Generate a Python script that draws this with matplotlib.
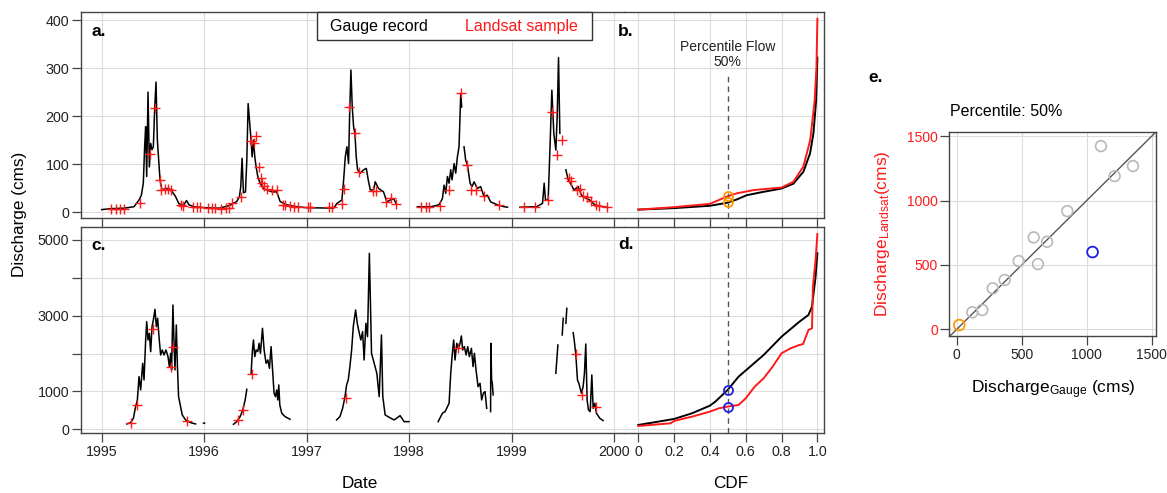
"""Gauge record vs Landsat sample: hydrographs, CDFs and percentile scatter."""

import matplotlib

matplotlib.use("Agg")
import matplotlib.pyplot as plt
import numpy as np
from matplotlib.patches import Rectangle

plt.rcParams["font.family"] = ["Liberation Sans", "DejaVu Sans"]
plt.rcParams["mathtext.fontset"] = "custom"
plt.rcParams["mathtext.rm"] = "Liberation Sans"
plt.rcParams["mathtext.it"] = "Liberation Sans:italic"

nan = np.nan

# ---- panel a: small river, gauge record (decimal year, cms) ----
GAUGE_A_T = [
    1995.000, 1995.088, 1995.218, 1995.315, 1995.364, 1995.387, 1995.406, 1995.419,
    1995.429, 1995.439, 1995.452, 1995.465, 1995.478, 1995.491, 1995.504, 1995.517,
    1995.530, 1995.543, 1995.556, 1995.569, 1995.588, 1995.624, 1995.656, 1995.689,
    1995.721, 1995.754, 1995.802, 1995.828, 1995.851, 1995.900, 1996.004, 1996.150,
    1996.253, 1996.318, 1996.344, 1996.357, 1996.370, 1996.383, 1996.403, 1996.416,
    1996.429, 1996.442, 1996.455, 1996.468, 1996.481, 1996.494, 1996.507, 1996.523,
    1996.546, 1996.578, 1996.611, 1996.660, 1996.708, 1996.741, 1996.806, 1996.903,
    1997.000, 1997.263, 1997.296, 1997.344, 1997.361, 1997.377, 1997.393, 1997.409,
    1997.419, 1997.432, 1997.445, 1997.458, 1997.471, 1997.484, 1997.497, 1997.523,
    1997.556, 1997.582, 1997.601, 1997.621, 1997.653, 1997.669, 1997.702, 1997.750,
    1997.783, 1997.815, 1997.848, 1997.875, 1997.950, 1998.081, 1998.211, 1998.292,
    1998.325, 1998.341, 1998.357, 1998.374, 1998.390, 1998.406, 1998.419, 1998.439,
    1998.455, 1998.471, 1998.487, 1998.504, 1998.513, 1998.525, 1998.536, 1998.552,
    1998.569, 1998.595, 1998.614, 1998.634, 1998.666, 1998.698, 1998.731, 1998.763,
    1998.796, 1998.861, 1998.926, 1998.960, 1999.020, 1999.081, 1999.244, 1999.302,
    1999.318, 1999.331, 1999.357, 1999.374, 1999.393, 1999.412, 1999.432, 1999.445,
    1999.458, 1999.471, 1999.500, 1999.530, 1999.552, 1999.575, 1999.608, 1999.650,
    1999.682, 1999.731, 1999.763, 1999.812, 1999.861, 1999.926,
]
GAUGE_A_Q = [
    5, 7, 8, 11, 25, 35, 60, 136,
    178, 74, 250, 94, 143, 130, 136, 216,
    271, 150, 108, 67, 46, 49, 49, 42,
    32, 17, 15, 24, 15, 11, 9, 8,
    14, 22, 32, 53, 112, 40, 42, 108,
    226, 192, 157, 115, 150, 115, 94, 74,
    60, 49, 46, 42, 42, 22, 15, 11,
    9, 8, 18, 25, 67, 115, 136, 101,
    199, 296, 219, 178, 164, 115, 88, 81,
    88, 91, 67, 46, 46, 63, 49, 42,
    21, 25, 28, 17, nan, 11, 11, 15,
    28, 56, 39, 74, 60, 88, 67, 101,
    81, 115, 136, 247, 219, nan, 136, 108,
    98, 60, 53, 63, 49, 53, 32, 35,
    21, 15, 11, 10, nan, 10, 11, 18,
    60, 25, 25, 129, 254, 164, 129, 199,
    322, 164, nan, 88, 67, 60, 46, 53,
    35, 28, 25, 15, 12, 10,
]

LANDSAT_A_T = [
    1995.094, 1995.136, 1995.175, 1995.218, 1995.370, 1995.471, 1995.523, 1995.565,
    1995.582, 1995.614, 1995.647, 1995.673, 1995.770, 1995.796, 1995.893, 1995.932,
    1995.955, 1996.036, 1996.079, 1996.101, 1996.160, 1996.209, 1996.238, 1996.274,
    1996.355, 1996.455, 1996.485, 1996.507, 1996.533, 1996.550, 1996.566, 1996.582,
    1996.615, 1996.663, 1996.712, 1996.771, 1996.793, 1996.842, 1996.875, 1996.914,
    1997.011, 1997.037, 1997.216, 1997.248, 1997.346, 1997.368, 1997.417, 1997.469,
    1997.508, 1997.643, 1997.675, 1997.773, 1997.821, 1997.870, 1998.114, 1998.162,
    1998.195, 1998.302, 1998.390, 1998.504, 1998.569, 1998.608, 1998.650, 1998.731,
    1998.877, 1999.121, 1999.225, 1999.358, 1999.397, 1999.446, 1999.488, 1999.559,
    1999.575, 1999.634, 1999.666, 1999.699, 1999.738, 1999.771, 1999.819, 1999.852,
    1999.927,
]
LANDSAT_A_Q = [
    6, 6, 6, 6, 19, 120, 217, 67,
    46, 47, 47, 46, 14, 12, 11, 10,
    10, 8, 8, 8, 6, 8, 9, 18,
    32, 147, 144, 159, 93, 70, 60, 54,
    47, 46, 46, 15, 14, 12, 11, 10,
    10, 10, 10, 10, 17, 49, 219, 165,
    84, 44, 44, 21, 30, 17, 10, 10,
    10, 12, 46, 249, 98, 46, 46, 34,
    15, 10, 10, 24, 208, 119, 150, 70,
    65, 46, 49, 34, 31, 22, 15, 12,
    10,
]

# ---- panel c: large river, gauge record ----
GAUGE_C_T = [
    1995.244, 1995.283, 1995.309, 1995.331, 1995.348, 1995.364, 1995.380, 1995.400,
    1995.413, 1995.429, 1995.439, 1995.452, 1995.465, 1995.478, 1995.491, 1995.504,
    1995.520, 1995.533, 1995.546, 1995.559, 1995.575, 1995.591, 1995.608, 1995.627,
    1995.647, 1995.660, 1995.673, 1995.682, 1995.695, 1995.705, 1995.715, 1995.728,
    1995.738, 1995.750, 1995.763, 1995.786, 1995.819, 1995.867, 1995.916, 1995.950,
    1995.994, 1996.004, 1996.100,
    1996.286, 1996.318, 1996.351, 1996.377, 1996.400, 1996.416, 1996.440,
    1996.458, 1996.471, 1996.481, 1996.494, 1996.507, 1996.523, 1996.536, 1996.549,
    1996.569, 1996.585, 1996.604, 1996.621, 1996.637, 1996.653, 1996.669, 1996.682,
    1996.695, 1996.708, 1996.718, 1996.728, 1996.738, 1996.757, 1996.789, 1996.838,
    1997.000,
    1997.292, 1997.325, 1997.351, 1997.374, 1997.390, 1997.406, 1997.422, 1997.439,
    1997.455, 1997.478, 1997.494, 1997.507, 1997.529, 1997.546, 1997.561, 1997.578,
    1997.594, 1997.612, 1997.633, 1997.659, 1997.685, 1997.708, 1997.730, 1997.743,
    1997.766, 1997.805, 1997.854, 1997.912, 1997.951, 1997.998, 1998.100,
    1998.283, 1998.325, 1998.351, 1998.374, 1998.390, 1998.406, 1998.422, 1998.435,
    1998.448, 1998.465, 1998.481, 1998.497, 1998.510, 1998.523, 1998.539, 1998.556,
    1998.572, 1998.588, 1998.608, 1998.624, 1998.637, 1998.653, 1998.673, 1998.692,
    1998.708, 1998.724, 1998.741, 1998.757, 1998.780,
    1998.795, 1998.798, 1998.805, 1998.812, 1998.820, 1998.900,
    1999.432, 1999.452, 1999.470, 1999.494, 1999.504, 1999.520, 1999.530, 1999.539,
    1999.570, 1999.601, 1999.611, 1999.627, 1999.643, 1999.656, 1999.669, 1999.682,
    1999.698, 1999.711, 1999.724, 1999.737, 1999.750, 1999.767, 1999.783, 1999.796,
    1999.812, 1999.828, 1999.861, 1999.893,
]
GAUGE_C_Q = [
    141, 176, 290, 599, 775, 1391, 1039, 1743,
    1303, 2359, 2843, 2359, 2535, 2051, 2711, 2887,
    3169, 2711, 2931, 2447, 1963, 2095, 1963, 2095,
    1919, 1655, 2007, 1567, 3283, 2359, 1567, 2755,
    1743, 863, 687, 379, 246, 176, 141, nan,
    165, 160, nan,
    132, 202, 335, 511, 775, 1056, nan,
    1479, 2095, 2359, 1919, 2095, 2051, 2271, 2007,
    2667, 2095, 1743, 1831, 1611, 2183, 1479, 951,
    863, 1039, 775, 1171, 643, 423, 335, 264,
    nan,
    246, 335, 555, 863, 1171, 1303, 1655, 2095,
    2711, 3151, 2799, 2623, 2359, 2580, 1831, 2799,
    2447, 4648, 2007, 1743, 1479, 863, 2491, 863,
    379, 317, 246, 361, 202, 202, nan,
    202, 423, 467, 599, 687, 1479, 2007, 2359,
    1831, 2271, 2139, 2271, 2465, 2095, 2183, 1963,
    2183, 1919, 2139, 1655, 2007, 1567, 1127, 1215,
    775, 951, 995, 555, nan,
    467, 2271, 1300, 1215, 907, nan,
    1479, 2227, nan, 2491, 2931, nan, 2799, 3195,
    nan, 2553, 2359, 1963, 1303, 1215, 1083, 951,
    1127, 1479, 2253, 775, 511, 467, 1435, 555,
    687, 423, 290, 229,
]

LANDSAT_C_T = [
    1995.283, 1995.348, 1995.497, 1995.673, 1995.699, 1995.828, 1996.332, 1996.378,
    1996.465, 1997.385, 1998.478, 1999.631, 1999.689, 1999.819,
]
LANDSAT_C_Q = [176, 643, 2641, 1655, 2183, 211, 238, 502, 1461, 836, 2139, 1981, 907, 599]

# ---- panels b and d: CDFs ----
CDF_P_GAUGE_A = [0, 0.196, 0.40, 0.493, 0.549, 0.605, 0.698, 0.80, 0.866, 0.922, 0.959, 0.978, 0.993, 1.0]
CDF_Q_GAUGE_A = [5, 8, 13, 19, 26, 35, 42, 49, 59, 84, 122, 164, 233, 322]
CDF_P_LANDSAT_A = [0, 0.196, 0.40, 0.45, 0.493, 0.55, 0.65, 0.80, 0.866, 0.922, 0.96, 0.985, 0.995, 1.0]
CDF_Q_LANDSAT_A = [5, 10, 17, 25, 32, 39, 46, 51, 63, 95, 150, 233, 303, 403]

CDF_P_GAUGE_C = [0, 0.2, 0.3, 0.4, 0.43, 0.5, 0.56, 0.7, 0.8, 0.9, 0.95, 0.97, 0.99, 1.0]
CDF_Q_GAUGE_C = [114, 273, 423, 625, 730, 1045, 1391, 1963, 2447, 2843, 3019, 3239, 4032, 4650]
CDF_P_LANDSAT_C = [0, 0.18, 0.2, 0.3, 0.4, 0.45, 0.5, 0.56, 0.6, 0.65, 0.7, 0.75, 0.8,
                   0.85, 0.9, 0.92, 0.95, 0.97, 0.975, 0.99, 1.0]
CDF_Q_LANDSAT_C = [88, 158, 220, 334, 467, 555, 600, 643, 819, 1127, 1347, 1655, 2007,
                   2139, 2227, 2250, 2623, 2667, 3768, 4472, 5158]

PERCENTILE = 0.5
P50_A = (20, 33)      # (gauge, landsat)
P50_C = (1045, 600)

# ---- panel e: percentile flows for many rivers ----
E_GAUGE = [120, 197, 277, 369, 477, 592, 625, 695, 851, 1110, 1215, 1356]
E_LANDSAT = [132, 150, 318, 383, 530, 714, 507, 680, 918, 1423, 1190, 1268]

YEARS = [1995, 1996, 1997, 1998, 1999, 2000]
CDF_TICKS = [0, 0.2, 0.4, 0.6, 0.8, 1.0]
CDF_LABELS = ["0", "0.2", "0.4", "0.6", "0.8", "1.0"]

W, H = 1167, 493
FRAME = "#444444"
GRID = "#dcdcdc"
RED = "#ff1a1a"
ORANGE = "#ff9900"
BLUE = "#1f1fe0"


def box(left, top, right, bottom):
    return [left / W, 1 - bottom / H, (right - left) / W, (bottom - top) / H]


def style(ax, labelsize=10.3):
    for spine in ax.spines.values():
        spine.set_color(FRAME)
        spine.set_linewidth(1.0)
    ax.tick_params(direction="out", length=6.3, width=0.9, color=FRAME,
                   labelsize=labelsize, pad=2, labelcolor="#222222")
    ax.grid(True, color=GRID, linewidth=0.8)
    ax.set_axisbelow(True)


def ftext(fig, x, y, s, **kw):
    fig.text(x / W, 1 - y / H, s, **kw)


fig = plt.figure(figsize=(W / 100, H / 100), dpi=100)

ax_a = fig.add_axes(box(80.7, 12, 624, 218))
ax_b = fig.add_axes(box(624, 12, 824, 218))
ax_c = fig.add_axes(box(80.7, 226.7, 624, 433))
ax_d = fig.add_axes(box(624, 226.7, 824, 433))
ax_e = fig.add_axes(box(949.3, 131.7, 1155.7, 336))

for ax in (ax_a, ax_b, ax_c, ax_d):
    style(ax)
style(ax_e, labelsize=10)

# time series
ax_a.plot(GAUGE_A_T, GAUGE_A_Q, color="black", lw=1.1)
ax_a.plot(LANDSAT_A_T, LANDSAT_A_Q, ls="none", marker="+", ms=7, mew=1.0, color=RED)
ax_c.plot(GAUGE_C_T, GAUGE_C_Q, color="black", lw=1.1)
ax_c.plot(LANDSAT_C_T, LANDSAT_C_Q, ls="none", marker="+", ms=7, mew=1.0, color=RED)

for ax, ylim, yticks in (
    (ax_a, (-12.5, 417), [0, 100, 200, 300, 400]),
    (ax_c, (-98, 5351), [0, 1000, 2000, 3000, 4000, 5000]),
):
    ax.set_xlim(1994.795, 2000.097)
    ax.set_ylim(*ylim)
    ax.set_xticks(YEARS)
    ax.set_yticks(yticks)
    ax.spines["right"].set_visible(False)
ax_a.tick_params(labelbottom=False)
ax_c.set_xticklabels([str(y) for y in YEARS])
ax_c.set_yticklabels(["0", "1000", "", "3000", "", "5000"])

# CDFs
ax_b.plot(CDF_P_GAUGE_A, CDF_Q_GAUGE_A, color="black", lw=1.4)
ax_b.plot(CDF_P_LANDSAT_A, CDF_Q_LANDSAT_A, color=RED, lw=1.4)
ax_d.plot(CDF_P_GAUGE_C, CDF_Q_GAUGE_C, color="black", lw=1.4)
ax_d.plot(CDF_P_LANDSAT_C, CDF_Q_LANDSAT_C, color=RED, lw=1.4)

ax_b.vlines(PERCENTILE, -12.5, 285, colors="#555555", lw=1.0, linestyles=(0, (4, 3)))
ax_d.vlines(PERCENTILE, -98, 5351, colors="#555555", lw=1.0, linestyles=(0, (4, 3)))
ax_b.plot([PERCENTILE] * 2, P50_A, ls="none", marker="o", ms=6.5, mfc="none",
          mec=ORANGE, mew=1.3)
ax_d.plot([PERCENTILE] * 2, P50_C, ls="none", marker="o", ms=6.5, mfc="none",
          mec=BLUE, mew=1.3)
ax_b.text(PERCENTILE, 329, "Percentile Flow\n50%", ha="center", va="center",
          fontsize=10, color="#222222", linespacing=1.1)

for ax, ylim, yticks in (
    (ax_b, (-12.5, 417), [0, 100, 200, 300, 400]),
    (ax_d, (-98, 5351), [0, 1000, 2000, 3000, 4000, 5000]),
):
    ax.set_xlim(-0.08, 1.037)
    ax.set_ylim(*ylim)
    ax.set_xticks(CDF_TICKS)
    ax.set_yticks(yticks)
    ax.spines["left"].set_visible(False)
    ax.tick_params(axis="y", left=False, labelleft=False)
ax_b.tick_params(labelbottom=False)
ax_d.set_xticklabels(CDF_LABELS)

# legend box
ax_a.add_patch(Rectangle((0.4344, 0.864), 0.5061, 0.136, transform=ax_a.transAxes,
                         facecolor="white", edgecolor="#333333", lw=1.0, zorder=5,
                         clip_on=False))
ax_a.text(0.459, 0.932, "Gauge record", transform=ax_a.transAxes, ha="left",
          va="center", fontsize=11.5, color="black", zorder=6)
ax_a.text(0.7074, 0.932, "Landsat sample", transform=ax_a.transAxes, ha="left",
          va="center", fontsize=11.5, color=RED, zorder=6)

# panel e
ax_e.scatter(E_GAUGE, E_LANDSAT, s=60, facecolors="none", edgecolors="#b8b8b8",
             linewidths=1.2, zorder=3)
ax_e.scatter([P50_A[0]], [P50_A[1]], s=60, facecolors="none", edgecolors=ORANGE,
             linewidths=1.3, zorder=4)
ax_e.scatter([P50_C[0]], [P50_C[1]], s=60, facecolors="none", edgecolors=BLUE,
             linewidths=1.3, zorder=4)
ax_e.axline((0, 0), slope=1, color="#555555", lw=1.0, zorder=2)
ax_e.set_xlim(-57, 1531)
ax_e.set_ylim(-52, 1535)
ax_e.set_xticks([0, 500, 1000, 1500])
ax_e.set_yticks([0, 500, 1000, 1500])
ax_e.tick_params(axis="y", labelcolor=RED)

# labels
ftext(fig, 99, 31, "a.", fontsize=12.5, fontweight="bold", ha="center", va="center")
ftext(fig, 626, 31, "b.", fontsize=12.5, fontweight="bold", ha="center", va="center")
ftext(fig, 99, 245, "c.", fontsize=12.5, fontweight="bold", ha="center", va="center")
ftext(fig, 626, 244, "d.", fontsize=12.5, fontweight="bold", ha="center", va="center")
ftext(fig, 876, 78, "e.", fontsize=12.5, fontweight="bold", ha="center", va="center")
ftext(fig, 19.5, 214, "Discharge (cms)", fontsize=12.3, rotation=90, ha="center", va="center")
ftext(fig, 360, 484, "Date", fontsize=12.3, ha="center", va="center")
ftext(fig, 731, 484, "CDF", fontsize=12.3, ha="center", va="center")
ftext(fig, 950, 111, "Percentile: 50%", fontsize=11.5, ha="left", va="center")
ftext(fig, 883, 234, r"Discharge$_{\mathrm{Landsat}}$(cms)", fontsize=12.5,
      rotation=90, ha="center", va="center", color=RED)
ftext(fig, 1053, 390, r"Discharge$_{\mathrm{Gauge}}$ (cms)", fontsize=12.5,
      ha="center", va="center")

fig.savefig("out.png", dpi=100, facecolor="white")
